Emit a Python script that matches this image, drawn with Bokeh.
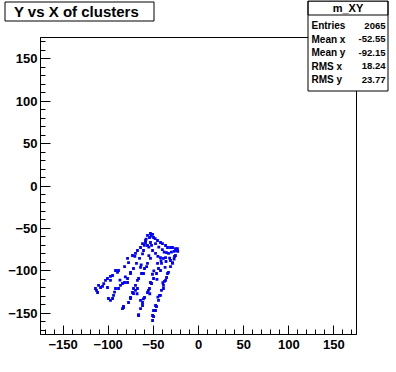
from bokeh.plotting import figure
from bokeh.models import Range1d, Label, BoxAnnotation, FixedTicker
from bokeh.embed import file_html
from bokeh.resources import INLINE

# ---- data ----
x_clusters = [
    -56.5, -53.2, -50.9, -54.3, -49.8, -58.7, -62.0, -58.7, -64.2, -67.6, -69.8, -73.1, -78.6,
    -45.4, -42.1, -39.9, -36.5, -34.3, -31.0, -28.8, -25.5, -23.3, -25.5, -50.9, -47.6, -42.1,
    -36.5, -33.2, -31.0, -56.5, -53.2, -47.6, -60.9,
    -24.4, -26.6, -28.8, -31.0, -33.2, -35.4, -37.7, -38.8, -41.0, -43.2, -44.3, -46.5, -47.6,
    -49.8, -50.9, -34.3, -36.5, -38.8, -42.1, -47.6, -49.8, -50.9, -28.8,
    -35.4, -38.8, -41.0, -44.3, -46.5, -49.8, -52.0, -54.3, -56.5, -59.8, -62.0, -64.2, -66.4,
    -42.1, -45.4, -53.2, -55.4, -64.2, -66.4, -62.0,
    -53.2, -56.5, -59.8, -63.1, -66.4, -67.6, -69.8, -72.0, -73.1, -75.3, -77.5, -83.1, -84.2,
    -64.2, -60.9, -67.6, -69.8, -72.0, -75.3, -83.1,
    -65.3, -68.7, -72.0, -75.3, -78.6, -81.9, -84.2, -88.6, -91.9, -94.1, -95.2, -97.5, -99.7,
    -78.6, -75.3, -86.4,
    -77.5, -81.9, -88.6, -91.9, -89.7, -95.2, -97.5, -100.8, -97.5, -103.0, -106.3, -100.8,
    -110.7, -108.5, -114.1, -111.8,
    -60.0, -55.0, -52.0, -44.0, -40.0, -38.0, -30.0, -27.0, -45.0, -55.0, -62.0, -32.0,
    -27.0, -52.5, -48.0, -58.0, -23.0, -36.0, -41.5, -57.5, -63.5, -70.5, -46.0, -51.0,
    -39.5, -54.0, -61.0, -68.0, -81.0, -87.0, -93.0, -105.0, -113.0, -45.0, -37.0, -49.5,
]
y_clusters = [
    -58.3, -56.0, -57.1, -60.7, -60.7, -64.2, -67.8, -66.6, -72.5, -76.0, -79.5, -81.9, -85.4,
    -64.2, -66.6, -67.8, -70.1, -72.5, -72.5, -72.5, -73.7, -73.7, -81.9, -76.0, -79.5, -84.3,
    -84.3, -79.5, -87.8, -70.1, -66.6, -67.8, -76.0,
    -76.0, -83.1, -90.2, -94.9, -101.9, -107.8, -112.5, -117.2, -123.1, -129.0, -134.9, -142.0,
    -146.7, -153.8, -158.5, -103.1, -111.3, -120.8, -129.0, -140.8, -146.7, -152.6, -91.3,
    -78.4, -85.4, -91.3, -97.2, -103.1, -109.0, -114.9, -120.8, -125.5, -131.4, -137.3, -144.4,
    -151.5, -99.6, -91.3, -113.7, -123.1, -134.9, -152.6, -140.8,
    -85.4, -91.3, -97.2, -103.1, -109.0, -111.3, -117.2, -120.8, -125.5, -131.4, -137.3, -143.2,
    -144.4, -96.0, -103.1, -120.8, -123.1, -126.7, -132.6, -142.0,
    -85.4, -91.3, -97.2, -101.9, -109.0, -113.7, -114.9, -120.8, -120.8, -129.0, -132.6, -134.9,
    -132.6, -113.7, -103.1, -117.2,
    -90.2, -94.9, -99.6, -99.6, -101.9, -105.5, -106.6, -109.0, -111.3, -111.3, -118.4, -119.6,
    -117.2, -119.6, -120.8, -125.5,
    -70.0, -72.0, -70.0, -72.0, -75.0, -78.0, -78.0, -77.0, -83.0, -82.0, -80.0, -85.0,
    -86.0, -59.0, -62.0, -62.5, -77.0, -89.0, -88.0, -95.0, -93.0, -83.0, -110.0, -104.0,
    -114.0, -127.0, -133.0, -127.0, -107.0, -111.0, -125.0, -115.0, -123.0, -131.0, -96.0, -100.0,
]
axis_range = (-175, 175)
axis_ticks = [-150, -100, -50, 0, 50, 100, 150]
minor_ticks = [-170, -160, -140, -130, -120, -110, -90, -80, -70, -60, -40, -30, -20, -10,
               10, 20, 30, 40, 60, 70, 80, 90, 110, 120, 130, 140, 160, 170]
title_text = "Y vs X of clusters"
stats_name = "m_XY"
stats_labels = ["Entries", "Mean x", "Mean y", "RMS x", "RMS y"]
stats_values = ["2065", "-52.55", "-92.15", "18.24", "23.77"]

# ---- layout: the Bokeh frame covers the whole canvas; the ROOT-style frame
# (pixels FL..FR, FT..FB) is mapped onto axis_range via the ranges ----
W, H = 396, 372
FL, FR, FT, FB = 40, 356, 37, 334
A0, A1 = axis_range
SX = (A1 - A0) / (FR - FL)
SY = (A1 - A0) / (FB - FT)


def dx(cx):
    return A0 + (cx - FL) * SX


def dy(cy):
    return A1 - (cy - FT) * SY


p = figure(width=W, height=H,
           x_range=Range1d(dx(0), dx(W)), y_range=Range1d(dy(H), dy(0)),
           output_backend="svg", toolbar_location=None, min_border=0)
p.outline_line_color = None
p.xgrid.visible = False
p.ygrid.visible = False
p.background_fill_color = "white"
p.border_fill_color = "white"

FONT = "Liberation Sans"
for ax, tin, mtin, standoff in ((p.xaxis[0], 9, 5, 5), (p.yaxis[0], 10, 5, 3)):
    ax.fixed_location = A0
    ax.bounds = axis_range
    ax.ticker = FixedTicker(ticks=axis_ticks, minor_ticks=minor_ticks)
    ax.major_tick_in = tin
    ax.major_tick_out = 0
    ax.minor_tick_in = mtin
    ax.minor_tick_out = 0
    ax.axis_line_color = "black"
    ax.major_tick_line_color = "black"
    ax.minor_tick_line_color = "black"
    ax.major_label_text_font = FONT
    ax.major_label_text_font_style = "bold"
    ax.major_label_text_font_size = "13px"
    ax.major_label_text_color = "black"
    ax.major_label_standoff = standoff

p.scatter(x_clusters, y_clusters, marker="square", size=2.8,
          fill_color="#0000ff", line_color=None)

# frame outline (top / right sides)
p.add_layout(BoxAnnotation(left=A0, right=A1, bottom=A0, top=A1,
                           fill_alpha=0, line_color="black", line_alpha=1, line_width=1))


def box(l, r, t, b, fill=1.0):
    return BoxAnnotation(left=dx(l), right=dx(r), top=dy(t), bottom=dy(b),
                         fill_color="white", fill_alpha=fill, line_color="black",
                         line_alpha=1, line_width=1)


def label(cx, cy, text, align, size):
    return Label(x=dx(cx), y=dy(cy), text=text, text_align=align,
                 text_baseline="middle", text_font=FONT, text_font_style="bold",
                 text_font_size=size, text_color="black")


# title box
p.add_layout(box(4.5, 153.5, 1.5, 20.5))
p.add_layout(label(76, 11, title_text, "center", "15px"))

# stats box
p.add_layout(box(307.5, 387.5, 0.5, 90.5))
p.add_layout(box(307.5, 387.5, 0.5, 14.5, fill=0.0))
p.add_layout(label(347.5, 7.5, stats_name, "center", "11px"))
row_y = [25, 38.5, 52, 65.5, 79]
for lab, val, ry in zip(stats_labels, stats_values, row_y):
    p.add_layout(label(311, ry, lab, "left", "10px"))
    p.add_layout(label(385, ry, val, "right", "9.5px"))

open("out.html", "w").write(file_html(p, INLINE))
